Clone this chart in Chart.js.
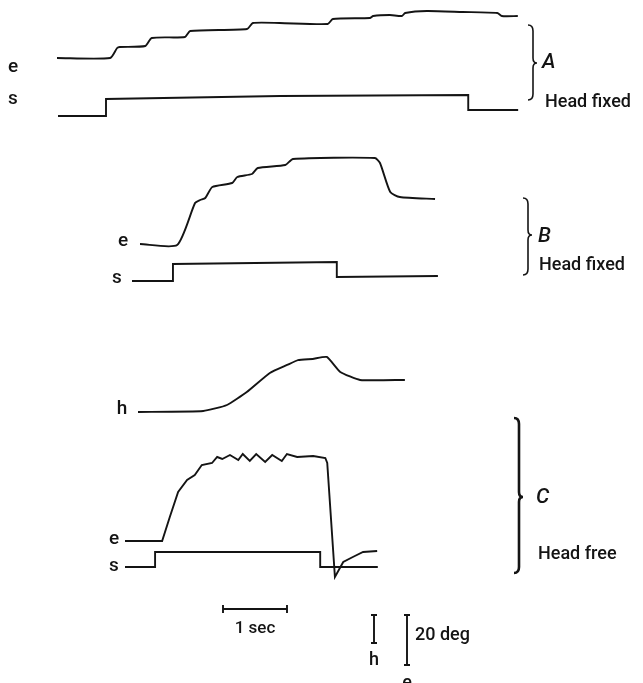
<!DOCTYPE html>
<html>
<head>
<meta charset="utf-8">
<script src="https://cdn.jsdelivr.net/npm/chart.js@4"></script>
<style>
  html, body { margin: 0; padding: 0; background: #fff; }
  #fig { display: block; }
</style>
</head>
<body>
<canvas id="fig" width="643" height="683"></canvas>
<script>
// time in sec from start of each trace, deflection in deg from its baseline
const aEyeT = [0, 0.83, 0.94, 0.98, 1.38, 1.48, 2.0, 2.08, 2.97, 3.06, 3.48, 4.23, 4.31, 4.89, 4.94, 5.2, 5.39, 5.44, 5.78, 6.34, 6.88, 6.95, 7.2];
const aEye  = [0, 0, 4.0, 4.4, 4.8, 8.0, 8.4, 10.8, 11.6, 14.0, 14.0, 13.6, 15.6, 16.0, 16.8, 17.2, 16.8, 18.0, 18.8, 18.4, 18.0, 16.8, 16.8];
const aStimT = [0, 0.75, 0.75, 3.47, 6.41, 6.41, 7.19];
const aStim  = [0, 0, 6.8, 8.0, 8.4, 2.4, 2.4];

const bEyeT = [0, 0.58, 0.86, 0.94, 1.02, 1.13, 1.44, 1.52, 1.75, 1.84, 2.27, 2.39, 3.67, 3.75, 3.91, 4.06, 4.61];
const bEye  = [0, -0.4, 16.4, 17.6, 18.4, 22.8, 24.4, 26.8, 28.0, 30.4, 31.6, 34.0, 34.4, 32.4, 20.8, 18.8, 18.0];
const bStimT = [0, 0.64, 0.64, 3.2, 3.2, 4.78];
const bStim  = [0, 0, 6.8, 7.6, 1.6, 2.0];

const cHeadT = [0, 1.02, 1.39, 1.7, 2.06, 2.33, 2.5, 2.73, 2.95, 3.16, 3.47, 4.17];
const cHead  = [0, 0.7, 5.0, 14.3, 27.9, 33.6, 37.1, 37.9, 39.3, 28.6, 22.9, 22.9];
const cEyeT = [0, 0.58, 0.7, 0.83, 0.97, 1.09, 1.2, 1.36, 1.44, 1.52, 1.64, 1.77, 1.84, 1.95, 2.05, 2.19, 2.3, 2.45, 2.53, 2.69, 2.94, 3.13, 3.16, 3.28, 3.41, 3.56, 3.72, 3.94];
const cEye  = [0, 0, 9.6, 19.6, 24.4, 26.4, 30.4, 31.2, 33.6, 32.8, 34.4, 32.4, 34.8, 32.0, 34.8, 31.6, 34.4, 32.0, 34.8, 33.6, 34.0, 33.2, 31.2, -14.4, -8.4, -6.4, -4.4, -4.0];
const cStimT = [0, 0.47, 0.47, 3.05, 3.05, 3.95];
const cStim  = [0, 0, 6.0, 6.0, 0, 0];

// figure geometry
const W = 643, H = 683;
const pxPerSec = 64;      // 1 sec bar
const pxPerDegE = 2.5;    // 20 deg bar (e)
const pxPerDegH = 1.4;    // 20 deg bar (h)

// where each trace starts on the page, px
const origins = {
  aEye: [57, 58], aStim: [58, 116],
  bEye: [140, 244], bStim: [132, 281],
  cHead: [138, 412], cEye: [125, 541], cStim: [125, 567]
};

function trace(key, ts, vs, gain) {
  const o = origins[key];
  const x0 = o[0] / pxPerSec, y0 = (H - o[1]) / pxPerDegE;
  return ts.map((t, i) => ({ x: x0 + t, y: y0 + vs[i] * (gain || 1) }));
}

const ink = '#141414';
function ds(data, smooth) {
  const d = { data: data, borderColor: ink, borderWidth: 1.9, pointRadius: 0, tension: smooth || 0, fill: false };
  return d;
}

const font = 'Roboto, "Liberation Sans", Arial, sans-serif';

function brace(ctx, x, top, mid, bot, w) {
  ctx.save();
  ctx.strokeStyle = ink;
  ctx.lineWidth = w;
  ctx.beginPath();
  ctx.moveTo(x - 5, top);
  ctx.quadraticCurveTo(x, top, x, top + 6);
  ctx.lineTo(x, mid - 5);
  ctx.quadraticCurveTo(x, mid, x + 4, mid);
  ctx.quadraticCurveTo(x, mid, x, mid + 5);
  ctx.lineTo(x, bot - 6);
  ctx.quadraticCurveTo(x, bot, x - 5, bot);
  ctx.stroke();
  ctx.restore();
}

function text(ctx, s, x, y, size, opts) {
  opts = opts || {};
  ctx.font = (opts.italic ? 'italic ' : '') + '500 ' + size + 'px ' + font;
  ctx.fillStyle = ink;
  ctx.textAlign = opts.align || 'left';
  ctx.textBaseline = 'middle';
  ctx.fillText(s, x, y);
}

const annotations = {
  id: 'annotations',
  afterDraw(chart) {
    const ctx = chart.ctx;
    const xs = chart.scales.x, ys = chart.scales.y;

    // trace labels
    text(ctx, 'e', 13, 67, 19, { align: 'center' });
    text(ctx, 's', 13, 99, 19, { align: 'center' });
    text(ctx, 'e', 123, 241, 19, { align: 'center' });
    text(ctx, 's', 117, 278, 19, { align: 'center' });
    text(ctx, 'h', 122, 409, 19, { align: 'center' });
    text(ctx, 'e', 114, 539, 19, { align: 'center' });
    text(ctx, 's', 114, 566, 19, { align: 'center' });

    // braces and panel names
    brace(ctx, 533, 25, 63, 100, 1.6);
    text(ctx, 'A', 542, 63, 21, { italic: true });
    text(ctx, 'Head fixed', 545, 102, 18);
    brace(ctx, 528, 198, 235, 275, 1.6);
    text(ctx, 'B', 538, 237, 21, { italic: true });
    text(ctx, 'Head fixed', 539, 265, 18);
    brace(ctx, 519, 418, 497, 573, 2.6);
    text(ctx, 'C', 536, 498, 21, { italic: true });
    text(ctx, 'Head free', 538, 554, 18);

    // calibration bars
    ctx.save();
    ctx.strokeStyle = ink;
    ctx.lineWidth = 1.9;
    const secStart = 223, secY = 609;
    const secEnd = xs.getPixelForValue(xs.getValueForPixel(secStart) + 1);
    ctx.beginPath();
    ctx.moveTo(secStart, secY); ctx.lineTo(secEnd, secY);
    ctx.moveTo(secStart, secY - 4); ctx.lineTo(secStart, secY + 4);
    ctx.moveTo(secEnd, secY - 4); ctx.lineTo(secEnd, secY + 4);
    ctx.stroke();
    text(ctx, '1 sec', (secStart + secEnd) / 2, 629, 17, { align: 'center' });

    const barTop = 615;
    const base = ys.getValueForPixel(barTop);
    const eBot = ys.getPixelForValue(base - 20);
    const hBot = ys.getPixelForValue(base - 20 * pxPerDegH / pxPerDegE);
    [[374, hBot], [407, eBot]].forEach(([bx, bb]) => {
      ctx.beginPath();
      ctx.moveTo(bx, barTop); ctx.lineTo(bx, bb);
      ctx.moveTo(bx - 3, barTop); ctx.lineTo(bx + 3, barTop);
      ctx.moveTo(bx - 3, bb); ctx.lineTo(bx + 3, bb);
      ctx.stroke();
    });
    ctx.restore();
    text(ctx, 'h', 374, 660, 18, { align: 'center' });
    text(ctx, 'e', 407, 683, 18, { align: 'center' });
    text(ctx, '20 deg', 415, 635, 18);
  }
};

new Chart(document.getElementById('fig'), {
  type: 'line',
  data: {
    datasets: [
      ds(trace('aEye', aEyeT, aEye), 0.2),
      ds(trace('aStim', aStimT, aStim)),
      ds(trace('bEye', bEyeT, bEye), 0.2),
      ds(trace('bStim', bStimT, bStim)),
      ds(trace('cHead', cHeadT, cHead, pxPerDegH / pxPerDegE), 0.15),
      ds(trace('cEye', cEyeT, cEye)),
      ds(trace('cStim', cStimT, cStim))
    ]
  },
  options: {
    responsive: false,
    animation: false,
    layout: { padding: 0 },
    plugins: { legend: { display: false }, tooltip: { enabled: false } },
    scales: {
      x: { type: 'linear', min: 0, max: W / pxPerSec, display: false },
      y: { type: 'linear', min: 0, max: H / pxPerDegE, display: false }
    }
  },
  plugins: [annotations]
});
</script>
</body>
</html>
